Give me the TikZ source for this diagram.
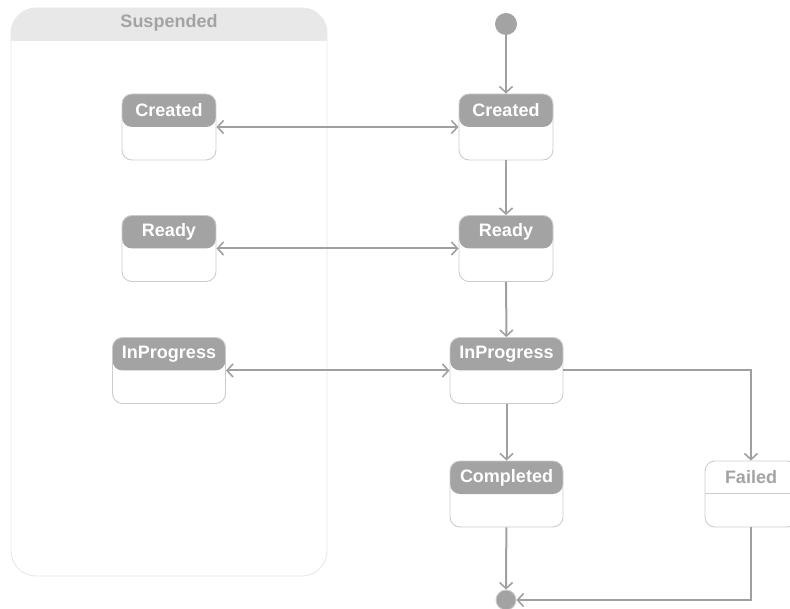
\documentclass[tikz,border=0pt]{standalone}
\usepackage{fontspec}
\setmainfont{Liberation Sans}
\usetikzlibrary{arrows.meta}
\definecolor{hdr}{HTML}{A3A3A3}
\definecolor{edge}{HTML}{A0A0A0}
\definecolor{boxline}{HTML}{CCCCCC}
\definecolor{pale}{HTML}{E8E8E8}
\begin{document}
\begin{tikzpicture}[x=1pt,y=-1pt,
  font=\fontsize{18}{20}\selectfont\bfseries,
  statebox/.style={draw=boxline, line width=0.9pt, rounded corners=10pt, fill=white,
    minimum width=94pt, minimum height=66pt, inner sep=0pt,
    path picture={\fill[hdr] (path picture bounding box.north west) rectangle
      ([yshift=-33pt]path picture bounding box.north east);}},
  widebox/.style={statebox, minimum width=113pt},
  hdrtext/.style={anchor=center, yshift=-17pt, text=white},
  failbox/.style={draw=boxline, line width=0.9pt, rounded corners=10pt, fill=white,
    minimum width=92pt, minimum height=66pt, inner sep=0pt},
  tip/.tip={Straight Barb[length=6pt,width=13pt,line width=1.6pt]},
  flow/.style={draw=edge, line width=2pt, -tip},
  both/.style={flow, tip-tip},
]
\useasboundingbox (0,0) rectangle (790,609);

% Suspended composite state: outline, then a header band with rounded top
\draw[pale, line width=0.9pt, rounded corners=25pt] (11,8) rectangle (327,576);
\begin{scope}
  \clip (0,0) rectangle (340,41);
  \fill[pale, rounded corners=25pt] (11,8) rectangle (327,576);
\end{scope}
\node[text=hdr] (susp) at (169,23) {Suspended};

% states inside Suspended
\node[statebox, label={[hdrtext]north:Created}] (sc) at (169,127) {};
\node[statebox, label={[hdrtext]north:Ready}] (sr) at (169,248.5) {};
\node[widebox, label={[hdrtext]north:InProgress}] (sp) at (169,370.5) {};

% main states
\node[circle, fill=hdr, minimum size=22pt, inner sep=0pt] (start) at (506,24) {};
\node[statebox, label={[hdrtext]north:Created}] (c) at (506,127) {};
\node[statebox, label={[hdrtext]north:Ready}] (r) at (506,248.5) {};
\node[widebox, label={[hdrtext]north:InProgress}] (p) at (506.5,370.5) {};
\node[widebox, label={[hdrtext]north:Completed}] (d) at (506.5,494) {};
\node[failbox, label={[hdrtext, text=hdr]north:Failed}] (f) at (751,494) {};
\draw[boxline, line width=0.9pt] ([yshift=-33pt]f.north west) -- ([yshift=-33pt]f.north east);
\node[circle, draw=boxline, line width=0.9pt, fill=hdr, minimum size=20pt, inner sep=0pt] (end) at (506,600) {};

% transitions
\draw[flow] (start) -- (c);
\draw[flow] (c) -- (r);
\draw[flow] (r) -- (p);
\draw[flow] (p) -- (d);
\draw[flow] (d) -- (end);
\draw[flow] (p.east) -| (f.north);
\draw[flow] (f.south) |- (end.east);
\draw[both] (sc.east) -- (c.west);
\draw[both] (sr.east) -- (r.west);
\draw[both] (sp.east) -- (p.west);
\end{tikzpicture}
\end{document}
